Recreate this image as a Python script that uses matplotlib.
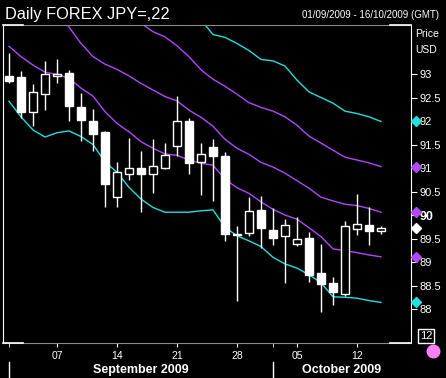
import numpy as np
import matplotlib
matplotlib.use("Agg")
import matplotlib.pyplot as plt

plt.rcParams['font.family'] = ['Liberation Sans', 'DejaVu Sans']

# daily USD/JPY candles, 01/09/2009 - 14/10/2009 (trading days only)
open_ = [92.96, 92.94, 92.20, 92.58, 92.95, 93.02, 92.30, 92.00, 91.76, 90.39,
         90.87, 91.01, 90.87, 91.01, 91.46, 91.99, 91.12, 91.45, 91.26, 89.59,
         89.61, 90.11, 89.68, 89.55, 89.38, 89.51, 88.76, 88.55, 88.32, 89.71,
         89.79, 89.67]
high = [93.45, 93.06, 92.79, 93.28, 93.32, 93.09, 92.60, 92.26, 91.79, 91.13,
        91.63, 91.37, 91.62, 91.54, 92.53, 92.06, 91.53, 91.62, 91.34, 89.77,
        90.38, 90.40, 90.14, 89.91, 89.96, 89.63, 89.38, 88.68, 89.87, 90.45,
        90.16, 89.77]
low = [92.80, 92.06, 91.90, 92.23, 92.80, 92.00, 91.57, 91.37, 90.16, 90.16,
       90.74, 90.07, 90.47, 90.98, 91.26, 90.87, 90.43, 90.30, 89.45, 88.18,
       89.56, 89.29, 89.36, 88.55, 89.34, 88.57, 87.94, 88.09, 88.28, 89.58,
       89.37, 89.60]
close = [92.85, 92.20, 92.61, 93.00, 93.00, 92.33, 92.02, 91.72, 90.67, 90.91,
         91.01, 90.87, 91.04, 91.27, 91.99, 91.11, 91.29, 91.26, 89.60, 89.57,
         90.08, 89.73, 89.52, 89.78, 89.48, 88.73, 88.54, 88.37, 89.76, 89.81,
         89.66, 89.73]

nan = np.nan
band_top = [nan] * 16 + [94.15, 93.84, 93.78, 93.65, 93.50, 93.31, 93.28, 93.17,
                          92.87, 92.62, 92.50, 92.38, 92.21, 92.16, 92.09, 91.99]
env_top = [nan] * 10 + [94.30, 94.08, 93.90, 93.79, 93.60, 93.37, 93.09, 92.89,
                         92.74, 92.57, 92.39, 92.29, 92.21, 92.09, 91.91, 91.68,
                         91.53, 91.38, 91.23, 91.17, 91.11, 91.03]
env_mid = [nan] * 4 + [94.35, 94.00, 93.65, 93.37, 93.21, 93.10, 92.96, 92.80,
                        92.66, 92.52, 92.43, 92.23, 92.08, 91.89, 91.61, 91.42,
                        91.29, 91.12, 91.02, 90.89, 90.73, 90.57, 90.38, 90.30,
                        90.23, 90.20, 90.14, 90.06]
env_low = [93.59, 93.37, 93.19, 93.04, 92.99, 92.91, 92.70, 92.53, 92.20, 91.95,
           91.77, 91.56, 91.42, 91.30, 91.27, 91.17, 91.10, 91.06, 90.76, 90.58,
           90.46, 90.28, 90.12, 90.00, 89.91, 89.73, 89.54, 89.28, 89.24, 89.20,
           89.15, 89.11]
band_low = [92.42, 92.09, 91.81, 91.66, 91.75, 91.79, 91.67, 91.50, 91.13, 90.91,
            90.59, 90.34, 90.16, 90.06, 90.06, 90.06, 90.09, 90.11, 89.74, 89.56,
            89.45, 89.33, 89.10, 88.96, 88.87, 88.73, 88.56, 88.26, 88.25, 88.23,
            88.18, 88.14]

day_ticks = [4, 9, 14, 19, 24, 29]
day_labels = ['07', '14', '21', '28', '05', '12']
month_starts = [0, 22]
months = ['September 2009', 'October 2009']
y_ticks = [88, 88.5, 89, 89.5, 90, 90.5, 91, 91.5, 92, 92.5, 93]

CYAN = '#22e0e0'
PURPLE = '#b048f8'

fig = plt.figure(figsize=(4.46, 3.78), dpi=100, facecolor='black')
ax = fig.add_axes([3 / 446, 35 / 378, 408 / 446, 318 / 378], facecolor='black')

x = np.arange(len(open_))
for line, col in [(band_top, CYAN), (env_top, PURPLE), (env_mid, PURPLE),
                  (env_low, PURPLE), (band_low, CYAN)]:
    ax.plot(x, line, color=col, lw=1, zorder=2)

for i in x:
    ax.vlines(i, low[i], high[i], color='white', lw=1, zorder=3)
    up = close[i] >= open_[i]
    bottom = min(open_[i], close[i])
    h = max(abs(close[i] - open_[i]), 0.03)
    ax.bar(i, h, bottom=bottom, width=0.7, color='black' if up else 'white',
           edgecolor='white', lw=1, zorder=4)

ax.set_xlim(-0.5, 33.5)
ax.set_ylim(87.277, 94.043)

# spines
for s in ['left', 'right']:
    ax.spines[s].set_color('white')
for s in ['top', 'bottom']:
    ax.spines[s].set_color('#8a8a8a')
for yy in [0, 1]:
    for xs in [(0, 20 / 408), (387 / 408, 1)]:
        ax.plot(xs, [yy, yy], color='white', lw=1.2, transform=ax.transAxes,
                clip_on=False, zorder=5)

# y axis on the right
ax.yaxis.tick_right()
ax.set_yticks(y_ticks)
ax.set_yticklabels([f'{v:g}' for v in y_ticks])
ax.tick_params(axis='y', colors='white', labelsize=8, length=4, pad=2)
for lab in ax.get_yticklabels():
    if lab.get_text() == '90':
        lab.set_fontweight('bold')
        lab.set_fontsize(9)

# x axis
ax.set_xticks(day_ticks)
ax.set_xticklabels(day_labels)
ax.set_xticks(month_starts, minor=True)
ax.tick_params(axis='x', which='both', colors='white', labelsize=7.5,
               length=3, pad=3)

# month labels and separators
ends = month_starts + [33.5]
for k, m in enumerate(months):
    ax.text((ends[k] + ends[k + 1]) / 2, -0.084, m, color='white', fontsize=9,
            fontweight='bold', ha='center', va='center',
            transform=ax.get_xaxis_transform())
for ms in month_starts:
    ax.plot([ms, ms], [-0.06, -0.107], color='white', lw=1,
            transform=ax.get_xaxis_transform(), clip_on=False)

# last value markers on the price axis
marks = [(band_top[-1], CYAN), (env_top[-1], PURPLE), (env_mid[-1], PURPLE),
         (close[-1], 'white'), (env_low[-1], PURPLE), (band_low[-1], CYAN)]
for v, col in marks:
    ax.plot([1.012], [v], marker='D', ms=5.5, color=col, mec=col,
            transform=ax.get_yaxis_transform(), clip_on=False, zorder=6)

fig.text(5 / 446, 1 - 14 / 378, 'Daily FOREX JPY=,22', color='white',
         fontsize=11.8, ha='left', va='center')
fig.text(439 / 446, 1 - 15 / 378, '01/09/2009 - 16/10/2009 (GMT)',
         color='white', fontsize=7, ha='right', va='center')
fig.text(415 / 446, 1 - 34 / 378, 'Price', color='white', fontsize=7.5,
         ha='left', va='center')
fig.text(415 / 446, 1 - 50 / 378, 'USD', color='white', fontsize=7.5,
         ha='left', va='center')
fig.text(426 / 446, 1 - 336 / 378, '12', color='white', fontsize=8,
         ha='center', va='center',
         bbox=dict(boxstyle='square,pad=0.15', fc='black', ec='white', lw=1))
fig.lines.append(plt.Line2D([433 / 446], [1 - 351 / 378], marker='o', ms=9,
                            color='#ff80ff', transform=fig.transFigure))

fig.savefig('out.png', dpi=100, facecolor='black')
